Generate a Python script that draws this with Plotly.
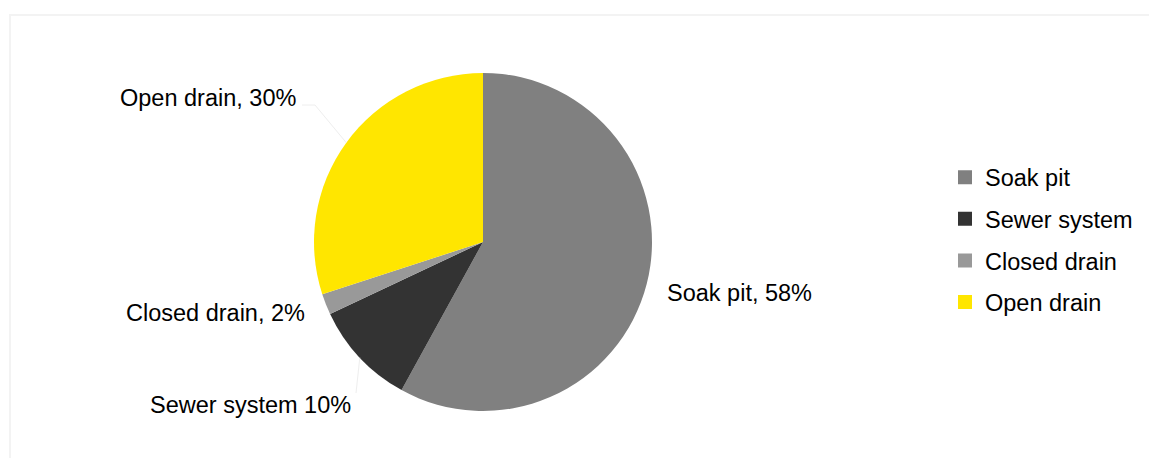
import math
import plotly.graph_objects as go

# Wastewater disposal categories and their shares (%)
categories = ["Soak pit", "Sewer system", "Closed drain", "Open drain"]
shares = [58, 10, 2, 30]
separators = [", ", " ", ", ", ", "]
colors = ["#808080", "#333333", "#999999", "#FFE600"]

W, H = 1149, 458
FONT = "Liberation Sans, Arial, sans-serif"
FS = 23.5

# Pie geometry in pixels
cx, cy, r = 483, 242, 169

fig = go.Figure()

fig.add_trace(go.Pie(
    labels=categories,
    values=shares,
    sort=False,
    direction="clockwise",
    rotation=0,
    marker=dict(colors=colors, line=dict(width=0)),
    textinfo="none",
    hoverinfo="label+percent",
    showlegend=False,
    domain=dict(x=[(cx - r) / W, (cx + r) / W], y=[(H - cy - r) / H, (H - cy + r) / H]),
))

# Legend entries
for name, col in zip(categories, colors):
    fig.add_trace(go.Scatter(
        x=[None], y=[None], mode="markers", name=name, legendgroup=name,
        marker=dict(symbol="square", size=14, color=col),
    ))

# Data labels placed outside the pie, with faint leader lines
label_pos = {
    "Soak pit": (665, 293, "left"),
    "Sewer system": (353, 405, "right"),
    "Closed drain": (307, 313, "right"),
    "Open drain": (298, 98, "right"),
}
annotations = []
shapes = []
total = sum(shares)
cum = 0
for name, val, sep in zip(categories, shares, separators):
    mid = (cum + val / 2) / total * 2 * math.pi
    cum += val
    lx, ly, anchor = label_pos[name]
    annotations.append(dict(
        x=lx / W, y=1 - ly / H, xref="paper", yref="paper",
        xanchor=anchor, yanchor="middle", showarrow=False,
        text=f"{name}{sep}{val}%",
        font=dict(family=FONT, size=FS, color="#000000"),
    ))
    ex = cx + r * math.sin(mid)
    ey = cy - r * math.cos(mid)
    if name == "Open drain":
        pts = [(ex, ey), (lx + 17, ly + 7), (lx + 4, ly + 7)]
    elif name == "Sewer system":
        pts = [(ex, ey), (lx + 3, ly - 12)]
    else:
        pts = []
    for (x0, y0), (x1, y1) in zip(pts[:-1], pts[1:]):
        shapes.append(dict(
            type="line", xref="paper", yref="paper",
            x0=x0 / W, y0=1 - y0 / H, x1=x1 / W, y1=1 - y1 / H,
            line=dict(color="#eeeeee", width=1),
        ))

# Chart area outline
shapes.append(dict(
    type="rect", xref="paper", yref="paper",
    x0=10 / W, y0=-0.05, x1=1.05, y1=1 - 15 / H,
    line=dict(color="#f3f3f3", width=2), layer="below",
))

fig.update_layout(
    width=W, height=H,
    margin=dict(l=0, r=0, t=0, b=0),
    paper_bgcolor="white", plot_bgcolor="white",
    xaxis=dict(visible=False), yaxis=dict(visible=False),
    font=dict(family=FONT, size=FS, color="#000000"),
    legend=dict(
        x=945 / W, y=1 - 240 / H, xanchor="left", yanchor="middle",
        font=dict(family=FONT, size=FS, color="#000000"),
        tracegroupgap=8, itemsizing="trace", bgcolor="rgba(0,0,0,0)",
    ),
    annotations=annotations,
    shapes=shapes,
)

fig.write_html("out.html")
